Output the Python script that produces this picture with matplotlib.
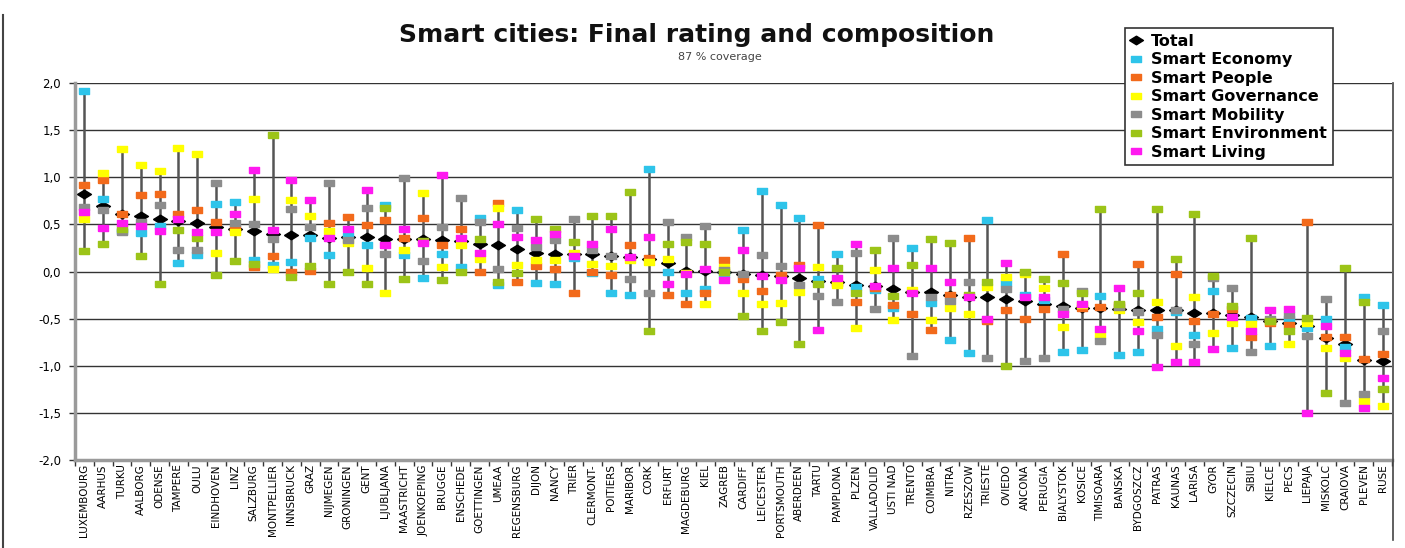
import numpy as np
import matplotlib
matplotlib.use("Agg")
from matplotlib import pyplot as plt
from matplotlib.lines import Line2D

cities = ["LUXEMBOURG", "AARHUS", "TURKU", "AALBORG", "ODENSE", "TAMPERE", "OULU",
          "EINDHOVEN", "LINZ", "SALZBURG", "MONTPELLIER", "INNSBRUCK", "GRAZ",
          "NIJMEGEN", "GRONINGEN", "GENT", "LJUBLJANA", "MAASTRICHT", "JOENKOEPING",
          "BRUGGE", "ENSCHEDE", "GOETTINGEN", "UMEAA", "REGENSBURG", "DIJON", "NANCY",
          "TRIER", "CLERMONT-", "POITIERS", "MARIBOR", "CORK", "ERFURT", "MAGDEBURG",
          "KIEL", "ZAGREB", "CARDIFF", "LEICESTER", "PORTSMOUTH", "ABERDEEN", "TARTU",
          "PAMPLONA", "PLZEN", "VALLADOLID", "USTI NAD", "TRENTO", "COIMBRA", "NITRA",
          "RZESZOW", "TRIESTE", "OVIEDO", "ANCONA", "PERUGIA", "BIALYSTOK", "KOSICE",
          "TIMISOARA", "BANSKA", "BYDGOSZCZ", "PATRAS", "KAUNAS", "LARISA", "GYOR",
          "SZCZECIN", "SIBIU", "KIELCE", "PECS", "LIEPAJA", "MISKOLC", "CRAIOVA",
          "PLEVEN", "RUSE"]

total = [0.82, 0.69, 0.61, 0.59, 0.56, 0.54, 0.51, 0.47, 0.45, 0.43, 0.40, 0.39, 0.39, 0.36,
         0.37, 0.37, 0.35, 0.35, 0.34, 0.33, 0.32, 0.29, 0.28, 0.24, 0.20, 0.19, 0.19, 0.19,
         0.16, 0.15, 0.13, 0.09, 0.01, 0.01, -0.01, -0.03, -0.04, -0.05, -0.07, -0.10, -0.11,
         -0.14, -0.15, -0.19, -0.22, -0.22, -0.25, -0.27, -0.27, -0.29, -0.31, -0.34, -0.37,
         -0.39, -0.39, -0.40, -0.41, -0.41, -0.41, -0.44, -0.44, -0.46, -0.48, -0.53, -0.55,
         -0.58, -0.71, -0.77, -0.94, -0.95]
economy = [1.91, 0.77, 0.43, 0.41, 0.48, 0.09, 0.18, 0.72, 0.74, 0.12, 0.07, 0.10, 0.36, 0.17,
           0.38, 0.28, 0.71, 0.17, -0.07, 0.19, 0.05, 0.57, -0.14, 0.65, -0.12, -0.13, 0.14,
           -0.02, -0.23, -0.25, 1.09, 0.00, -0.23, -0.19, -0.03, 0.44, 0.85, 0.71, 0.57, -0.08,
           0.19, -0.16, -0.20, -0.39, 0.25, -0.33, -0.73, -0.87, 0.55, -0.12, -0.25, -0.30,
           -0.85, -0.83, -0.26, -0.89, -0.85, -0.61, -0.43, -0.67, -0.21, -0.81, -0.49, -0.79,
           -0.50, -0.60, -0.50, -0.80, -0.27, -0.36]
people = [0.92, 0.97, 0.61, 0.81, 0.82, 0.61, 0.65, 0.53, 0.45, 0.05, 0.16, -0.01, 0.01, 0.51,
          0.58, 0.49, 0.55, 0.36, 0.57, 0.28, 0.45, 0.00, 0.73, -0.11, 0.06, 0.03, -0.23, 0.00,
          -0.04, 0.28, 0.14, -0.25, -0.35, -0.23, 0.12, -0.08, -0.21, -0.04, 0.07, 0.49, -0.12,
          -0.32, -0.18, -0.36, -0.45, -0.62, -0.25, 0.36, -0.53, -0.41, -0.50, -0.40, 0.19,
          -0.39, -0.38, -0.36, 0.08, -0.48, -0.03, -0.53, -0.45, -0.40, -0.69, -0.55, -0.57,
          0.53, -0.70, -0.70, -0.93, -0.88]
governance = [0.56, 1.05, 1.30, 1.13, 1.07, 1.31, 1.25, 0.20, 0.42, 0.77, 0.03, 0.76, 0.59,
              0.43, 0.30, 0.04, -0.23, 0.23, 0.83, 0.05, 0.28, 0.13, 0.67, 0.07, 0.12, 0.12,
              0.20, 0.08, 0.06, 0.12, 0.10, 0.13, -0.02, -0.34, 0.05, -0.23, -0.34, -0.33,
              -0.22, 0.05, -0.14, -0.60, 0.02, -0.51, -0.20, -0.51, -0.39, -0.45, -0.16, -0.06,
              -0.03, -0.17, -0.59, -0.36, -0.67, -0.41, -0.54, -0.32, -0.79, -0.27, -0.65,
              -0.55, -0.56, -0.52, -0.77, -0.55, -0.81, -0.92, -1.37, -1.43]
mobility = [0.68, 0.65, 0.42, 0.53, 0.71, 0.23, 0.23, 0.94, 0.51, 0.50, 0.34, 0.66, 0.47, 0.94,
            0.33, 0.67, 0.19, 0.99, 0.11, 0.47, 0.78, 0.53, 0.03, 0.46, 0.26, 0.33, 0.56, 0.23,
            0.16, -0.08, -0.23, 0.53, 0.37, 0.48, 0.02, -0.03, 0.17, 0.06, -0.14, -0.26, -0.32,
            0.20, -0.40, 0.36, -0.90, -0.27, -0.31, -0.11, -0.92, -0.19, -0.95, -0.92, -0.40,
            -0.21, -0.74, -0.38, -0.43, -0.67, -0.41, -0.77, -0.07, -0.17, -0.85, -0.50, -0.46,
            -0.68, -0.29, -1.39, -1.30, -0.63]
environment = [0.22, 0.29, 0.45, 0.16, -0.13, 0.44, 0.36, -0.04, 0.11, 0.08, 1.45, -0.06, 0.06,
               -0.13, 0.00, -0.13, 0.67, -0.08, 0.32, -0.09, 0.00, 0.35, -0.11, -0.02, 0.56,
               0.45, 0.31, 0.59, 0.59, 0.84, -0.63, 0.29, 0.31, 0.29, 0.00, -0.47, -0.63, -0.54,
               -0.77, -0.13, 0.04, -0.23, 0.23, -0.26, 0.07, 0.35, 0.30, -0.25, -0.11, -1.00,
               0.00, -0.08, -0.12, -0.23, 0.66, -0.34, -0.23, 0.66, 0.13, 0.61, -0.05, -0.37,
               0.36, -0.53, -0.63, -0.49, -1.29, 0.04, -0.32, -1.25]
living = [0.63, 0.46, 0.51, 0.48, 0.43, 0.56, 0.42, 0.42, 0.61, 1.08, 0.44, 0.97, 0.76, 0.36,
          0.45, 0.87, 0.28, 0.45, 0.30, 1.02, 0.36, 0.20, 0.50, 0.37, 0.33, 0.40, 0.16, 0.29,
          0.45, 0.15, 0.37, -0.13, -0.03, 0.03, -0.09, 0.23, -0.05, -0.09, 0.04, -0.62, -0.07,
          0.29, -0.15, 0.04, -0.23, 0.04, -0.11, -0.27, -0.50, 0.09, -0.27, -0.27, -0.45, -0.35,
          -0.61, -0.18, -0.63, -1.01, -0.96, -0.96, -0.82, -0.48, -0.63, -0.41, -0.40, -1.50,
          -0.58, -0.86, -1.45, -1.13]

series = [("Smart Economy", economy, "#2EC4EA"),
          ("Smart People", people, "#F26A1B"),
          ("Smart Governance", governance, "#FFFF00"),
          ("Smart Mobility", mobility, "#8C8C8C"),
          ("Smart Environment", environment, "#9CC418"),
          ("Smart Living", living, "#FF19F0")]

rect = [(-1, -0.65), (1, -0.65), (1, 0.65), (-1, 0.65), (-1, -0.65)]
diamond = [(-1, 0), (0, 0.62), (1, 0), (0, -0.62), (-1, 0)]

fig = plt.figure(figsize=(14.05, 5.48), dpi=100)
ax = fig.add_axes([75 / 1405, 1 - 460 / 548, (1392 - 75) / 1405, (460 - 83) / 548])

x = np.arange(len(cities))
allv = np.array([total, economy, people, governance, mobility, environment, living])
ax.vlines(x, allv.min(axis=0), allv.max(axis=0), color="#555555", lw=1.8, zorder=2)

ax.plot(x, total, ls="none", marker=diamond, ms=10, color="black", zorder=3, label="Total")
for name, vals, col in series:
    ax.plot(x, vals, ls="none", marker=rect, ms=6.5, color=col, mec=col, zorder=4, label=name)

ax.set_xlim(-0.5, len(cities) - 0.5)
ax.set_ylim(-2, 2)
yt = np.arange(-2, 2.01, 0.5)
ax.set_yticks(yt)
ax.set_yticklabels([f"{v:.1f}".replace(".", ",") for v in yt], fontsize=8.5)
ax.yaxis.grid(True, color="#333333", lw=1)
ax.set_axisbelow(True)
ax.set_xticks(x)
ax.set_xticklabels(cities, rotation=90, fontsize=7.5, va="top", ha="center")
ax.set_xticks(np.arange(-0.5, len(cities)), minor=True)
ax.tick_params(axis="x", which="major", length=0, pad=3)
ax.tick_params(axis="x", which="minor", length=4, width=1, color="#333333")
ax.tick_params(axis="y", length=4, width=1, color="#333333", pad=6)
for s in ["top", "right"]:
    ax.spines[s].set_visible(False)
ax.spines["left"].set_color("#9a9a9a")
ax.spines["left"].set_linewidth(2.5)
ax.spines["bottom"].set_color("#9a9a9a")
ax.spines["bottom"].set_linewidth(2.5)

# chart borders
fig.add_artist(Line2D([1393 / 1405, 1393 / 1405], [1 - 83 / 548, 1 - 540 / 548],
                      color="#444444", lw=1.2))
fig.add_artist(Line2D([3 / 1405, 3 / 1405], [1 - 15 / 548, 0], color="#444444", lw=1.5))

fig.text(697 / 1405, 1 - 35 / 548, "Smart cities: Final rating and composition",
         fontsize=18, fontweight="bold", ha="center", va="center", color="#111111")
fig.text(720 / 1405, 1 - 57 / 548, "87 % coverage", fontsize=8, ha="center",
         va="center", color="#444444")

leg = fig.legend(loc="upper left", bbox_to_anchor=(1125 / 1405, 1 - 28 / 548),
                 prop={"weight": "bold", "size": 11.5}, frameon=True, fancybox=False,
                 edgecolor="#333333", framealpha=1, handlelength=0.7, handletextpad=0.6,
                 labelspacing=0.22, borderpad=0.35, borderaxespad=0)
leg.get_frame().set_linewidth(1.2)

fig.savefig("out.png", dpi=100)
